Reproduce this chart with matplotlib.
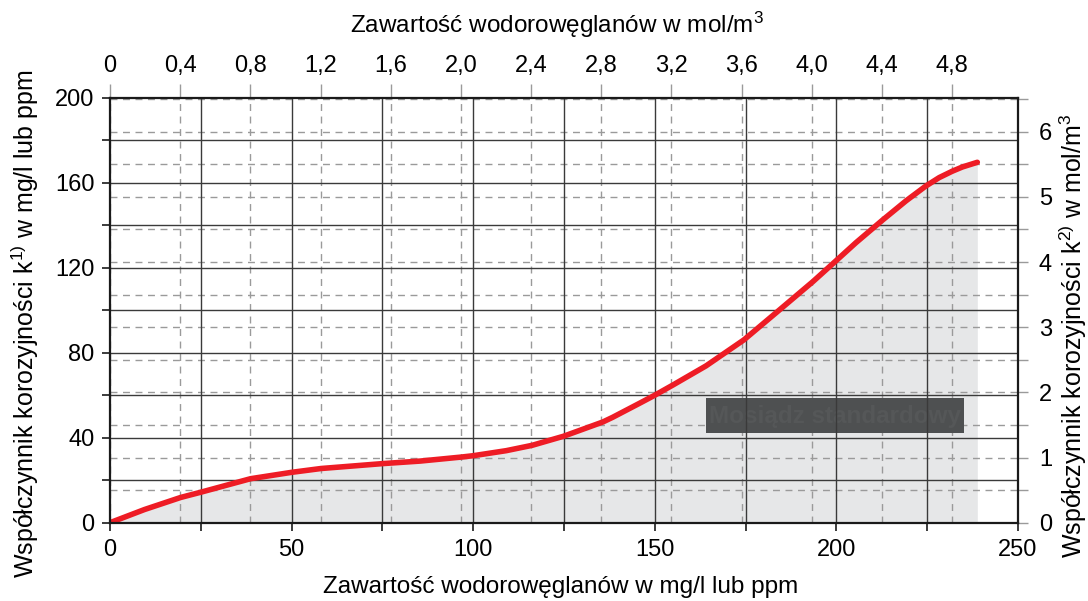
import matplotlib
matplotlib.use("Agg")
import matplotlib.pyplot as plt
from matplotlib.patches import Rectangle
import numpy as np

plt.rcParams['font.family'] = ['Liberation Sans', 'DejaVu Sans']
plt.rcParams['mathtext.fontset'] = 'custom'
plt.rcParams['mathtext.rm'] = 'Liberation Sans'
plt.rcParams['mathtext.it'] = 'Liberation Sans'

# Data
hco3_mg = [0, 9.5, 19.5, 24.9, 38.7, 50, 58.1, 75, 85.4, 96.8, 99.9, 109.1, 116.2,
           124.9, 135.7, 138.4, 145.8, 150, 155, 164.1, 174.5, 184.3, 193.5, 199.6,
           205.4, 212.7, 219.2, 224.6, 228.3, 231.9, 234.7, 238.8]
k_mg = [0, 6.2, 11.9, 14.3, 20.7, 23.7, 25.5, 27.8, 29.0, 30.9, 31.5, 33.9, 36.4,
        40.7, 47.4, 49.6, 56.2, 60.0, 64.8, 73.8, 86.0, 100.1, 113.4, 122.8,
        131.8, 142.4, 151.5, 158.4, 162.4, 165.4, 167.4, 169.6]

bottom_ticks = [0, 50, 100, 150, 200, 250]
left_ticks = [0, 40, 80, 120, 160, 200]
top_ticks = [0, 0.4, 0.8, 1.2, 1.6, 2.0, 2.4, 2.8, 3.2, 3.6, 4.0, 4.4, 4.8]
right_ticks = [0, 1, 2, 3, 4, 5, 6]
mg_per_mol_x = 48.3     # top axis conversion
mg_per_mol_y = 30.67    # right axis conversion
box_label = "Mosiądz standardowy"

fig = plt.figure(figsize=(10.88, 6.01), dpi=100)
ax = fig.add_axes([110/1088, (601-522.7)/601, 908/1088, 425/601])
ax.set_xlim(0, 250)
ax.set_ylim(0, 200)

dash_col = '#9a9a9a'
solid_col = '#3a3a3a'

# dashed grid (mol/m3)
for t in top_ticks:
    ax.axvline(t*mg_per_mol_x, color=dash_col, lw=1.0, ls=(0, (5, 4)), zorder=1)
for v in np.arange(0.5, 6.6, 0.5):
    ax.axhline(v*mg_per_mol_y, color=dash_col, lw=1.0, ls=(0, (5, 4)), zorder=1)

# fill under curve
ax.fill_between(hco3_mg, k_mg, 0, color='#e6e7e8', zorder=0.5, lw=0)

# text box
ax.add_patch(Rectangle((164.2, 42.1), 71.0, 16.4, facecolor='#4e5051',
                       edgecolor='none', zorder=1.5))
ax.text((164.2+235.2)/2, 50.0, box_label, ha='center', va='center',
        fontsize=17.5, fontweight='bold', color='#555758', zorder=1.6)

# solid grid
for x in np.arange(25, 250, 25):
    ax.axvline(x, color=solid_col, lw=1.0, zorder=2)
for y in np.arange(20, 200, 20):
    ax.axhline(y, color=solid_col, lw=1.0, zorder=2)

# curve
ax.plot(hco3_mg, k_mg, color='#ee1c25', lw=4.0, solid_capstyle='round',
        solid_joinstyle='round', zorder=3)

for s in ax.spines.values():
    s.set_linewidth(1.6)
    s.set_color('#1a1a1a')
    s.set_zorder(4)

ax.set_xticks(bottom_ticks)
ax.set_xticks(np.arange(0, 251, 25), minor=True)
ax.set_yticks(left_ticks)
ax.set_yticks(np.arange(0, 201, 20), minor=True)
ax.tick_params(axis='both', which='both', direction='out', length=6, width=1.2,
               color='#1a1a1a', labelsize=17)
ax.tick_params(axis='x', pad=6)
ax.tick_params(axis='y', pad=5)

secx = ax.secondary_xaxis('top', functions=(lambda x: x/mg_per_mol_x, lambda m: m*mg_per_mol_x))
secx.set_xticks(top_ticks)
secx.set_xticklabels([f"{t:.1f}".replace('.', ',') if t != 0 else '0' for t in top_ticks])
secx.tick_params(direction='out', length=10, width=1.0, color=dash_col, labelsize=17, pad=5)
secx.spines['top'].set_visible(False)

secy = ax.secondary_yaxis('right', functions=(lambda y: y/mg_per_mol_y, lambda m: m*mg_per_mol_y))
secy.set_yticks(right_ticks)
secy.set_yticks(np.arange(0.5, 6.6, 1.0), minor=True)
secy.tick_params(which='both', direction='out', length=7, width=1.0, color=dash_col, labelsize=17, pad=8)
secy.spines['right'].set_visible(False)

fig.text(561/1088, 1 - 587/601, "Zawartość wodorowęglanów w mg/l lub ppm",
         ha='center', va='center', fontsize=17.5)
fig.text(557/1088, 1 - 25/601, "Zawartość wodorowęglanów w mol/m$^3$",
         ha='center', va='center', fontsize=17.5)
fig.text(25/1088, 1 - 324/601, "Współczynnik korozyjności k$^{1)}$ w mg/l lub ppm",
         ha='center', va='center', rotation=90, fontsize=18)
fig.text(1073/1088, 1 - 336/601, "Współczynnik korozyjności k$^{2)}$ w mol/m$^3$",
         ha='center', va='center', rotation=90, fontsize=18)

fig.savefig("out.png", dpi=100)
